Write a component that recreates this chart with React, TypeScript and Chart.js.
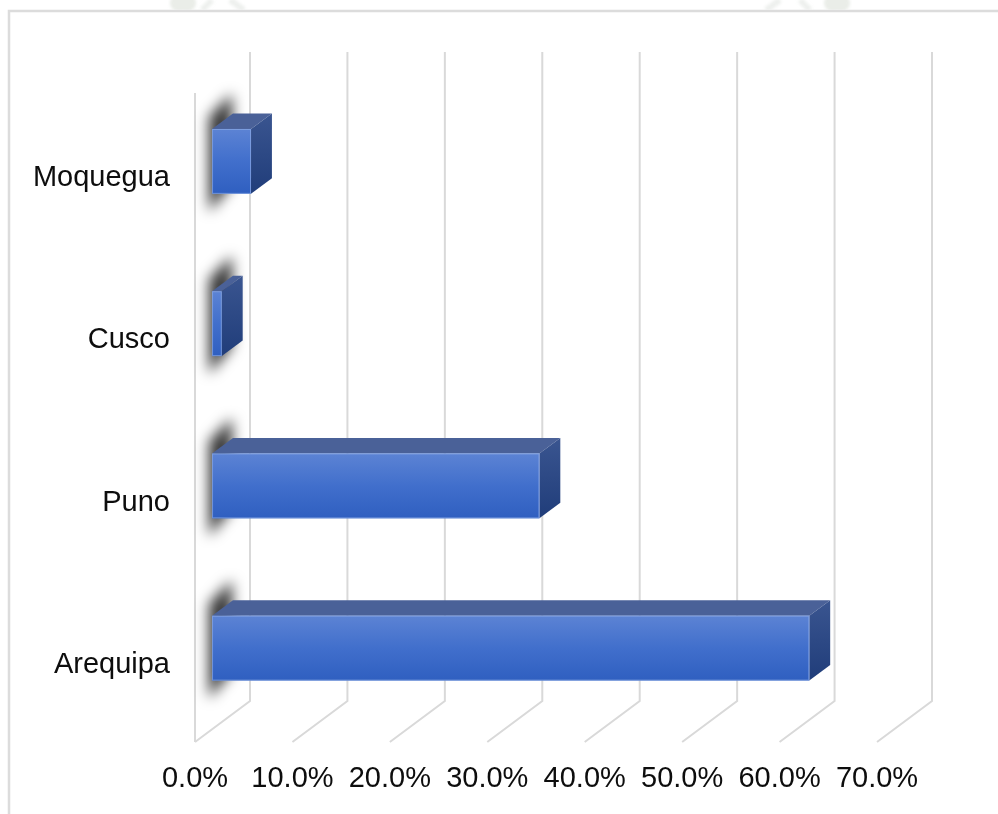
import React, { useEffect, useRef } from "react";
import { Chart, registerables } from "chart.js";

Chart.register(...registerables);

const categories = ["Moquegua", "Cusco", "Puno", "Arequipa"];
const values = [4.0, 1.0, 33.6, 61.3];
const tickValues = [0, 10, 20, 30, 40, 50, 60, 70];
const tickLabels = ["0.0%", "10.0%", "20.0%", "30.0%", "40.0%", "50.0%", "60.0%", "70.0%"];

const FONT = '29px "Liberation Sans", Arial, sans-serif';
const GRID = "#d9d9d9";
// full floor depth (back wall -> front edge)
const DX = -55;
const DY = 41;
const FRONT_F = 0.69;
const BACK_F = 0.31;

const plugin3d = {
  id: "plugin3d",
  afterDatasetsDraw(chart: any) {
    const ctx = chart.ctx as CanvasRenderingContext2D;
    const xs = chart.scales.x;
    const area = chart.chartArea;
    const meta = chart.getDatasetMeta(0);

    ctx.save();
    // outer frame
    ctx.strokeStyle = "#dcdcdc";
    ctx.lineWidth = 2.5;
    ctx.beginPath();
    ctx.moveTo(9, chart.height + 5);
    ctx.lineTo(9, 11);
    ctx.lineTo(chart.width + 5, 11);
    ctx.stroke();

    // faint watermark fragments above frame
    ctx.save();
    ctx.beginPath();
    ctx.rect(0, 0, chart.width, 9.5);
    ctx.clip();
    ctx.filter = "blur(1.5px)";
    ctx.fillStyle = "rgba(185,195,180,0.3)";
    ctx.beginPath();
    ctx.ellipse(183, 3, 13, 10, 0, 0, Math.PI * 2);
    ctx.fill();
    ctx.beginPath();
    ctx.ellipse(837, 3, 13, 10, 0, 0, Math.PI * 2);
    ctx.fill();
    ctx.strokeStyle = "rgba(200,205,200,0.3)";
    ctx.lineWidth = 6;
    ctx.beginPath();
    ctx.moveTo(202, 10);
    ctx.lineTo(212, 0);
    ctx.moveTo(230, 0);
    ctx.lineTo(244, 10);
    ctx.moveTo(766, 10);
    ctx.lineTo(780, 0);
    ctx.moveTo(800, 0);
    ctx.lineTo(810, 10);
    ctx.stroke();
    ctx.restore();

    // grid: back wall verticals and floor diagonals
    ctx.strokeStyle = GRID;
    ctx.lineWidth = 2;
    ctx.lineCap = "butt";
    tickValues.forEach((v) => {
      const x = xs.getPixelForValue(v);
      ctx.beginPath();
      ctx.moveTo(x, area.top);
      ctx.lineTo(x, area.bottom);
      ctx.lineTo(x + DX, area.bottom + DY);
      ctx.stroke();
    });
    // left wall front edge
    const x0w = xs.getPixelForValue(0);
    ctx.beginPath();
    ctx.moveTo(x0w + DX, area.top + DY);
    ctx.lineTo(x0w + DX, area.bottom + DY);
    ctx.stroke();

    const fdx = DX * FRONT_F;
    const fdy = DY * FRONT_F;
    const bdx = DX * BACK_F;
    const bdy = DY * BACK_F;
    const ox = bdx - fdx; // front -> back offset
    const oy = bdy - fdy;

    // shadows on left wall
    meta.data.forEach((bar: any) => {
      const p = bar.getProps(["y", "height"], true);
      const h = p.height;
      const x0 = xs.getPixelForValue(0) + fdx;
      const top = p.y + fdy - h / 2;
      const bot = p.y + fdy + h / 2;
      ctx.save();
      ctx.filter = "blur(7px)";
      ctx.fillStyle = "rgba(0,0,0,0.8)";
      ctx.beginPath();
      ctx.moveTo(x0 - 3, top - 12);
      ctx.lineTo(x0 + ox - 1, top + oy - 20);
      ctx.lineTo(x0 + ox - 1, bot + oy + 6);
      ctx.lineTo(x0 - 3, bot + 18);
      ctx.closePath();
      ctx.fill();
      ctx.restore();
    });

    // bars
    meta.data.forEach((bar: any, i: number) => {
      const p = bar.getProps(["y", "height"], true);
      const h = p.height;
      const x0 = xs.getPixelForValue(0) + fdx;
      const x1 = xs.getPixelForValue(values[i]) + fdx;
      const top = p.y + fdy - h / 2;
      const bot = p.y + fdy + h / 2;

      // top face
      ctx.fillStyle = "#4a6198";
      ctx.beginPath();
      ctx.moveTo(x0, top);
      ctx.lineTo(x1, top);
      ctx.lineTo(x1 + ox, top + oy);
      ctx.lineTo(x0 + ox, top + oy);
      ctx.closePath();
      ctx.fill();

      // right face
      const gr = ctx.createLinearGradient(0, top + oy, 0, bot);
      gr.addColorStop(0, "#3a5590");
      gr.addColorStop(1, "#203d7a");
      ctx.fillStyle = gr;
      ctx.beginPath();
      ctx.moveTo(x1, top);
      ctx.lineTo(x1 + ox, top + oy);
      ctx.lineTo(x1 + ox, bot + oy);
      ctx.lineTo(x1, bot);
      ctx.closePath();
      ctx.fill();

      // front face
      const gf = ctx.createLinearGradient(0, top, 0, bot);
      gf.addColorStop(0, "#5c83d4");
      gf.addColorStop(0.5, "#416fcc");
      gf.addColorStop(1, "#2f5fc0");
      ctx.fillStyle = gf;
      ctx.fillRect(x0, top, x1 - x0, h);
      ctx.strokeStyle = "rgba(140,170,230,0.7)";
      ctx.lineWidth = 1;
      ctx.strokeRect(x0 + 0.5, top + 0.5, x1 - x0 - 1, h - 1);
    });

    // category labels
    ctx.font = FONT;
    ctx.fillStyle = "#0d0d0d";
    ctx.textAlign = "right";
    ctx.textBaseline = "alphabetic";
    meta.data.forEach((bar: any, i: number) => {
      const p = bar.getProps(["y"], true);
      ctx.fillText(categories[i], 170, p.y + DY + 12);
    });

    // x tick labels at front floor edge
    ctx.textAlign = "center";
    tickValues.forEach((v, i) => {
      const x = xs.getPixelForValue(v) + DX;
      ctx.fillText(tickLabels[i], x, area.bottom + DY + 45);
    });
    ctx.restore();
  },
};

export default function App() {
  const ref = useRef<HTMLCanvasElement | null>(null);
  useEffect(() => {
    document.body.style.margin = "0";
    const canvas = ref.current!;
    const chart = new Chart(canvas, {
      type: "bar",
      data: {
        labels: categories,
        datasets: [
          {
            data: values,
            backgroundColor: "rgba(0,0,0,0)",
            borderWidth: 0,
            barPercentage: 0.4,
            categoryPercentage: 1,
          },
        ],
      },
      options: {
        indexAxis: "y",
        animation: false,
        responsive: false,
        maintainAspectRatio: false,
        layout: { padding: { left: 250, right: 66, top: 52, bottom: 113 } },
        scales: {
          x: { display: false, min: 0, max: 70 },
          y: { display: false },
        },
        plugins: {
          legend: { display: false },
          tooltip: { enabled: false },
        },
      },
      plugins: [plugin3d],
    });
    return () => chart.destroy();
  }, []);
  return (
    <div style={{ width: 998, height: 814, background: "#fff" }}>
      <canvas ref={ref} width={998} height={814} style={{ display: "block", width: 998, height: 814 }} />
    </div>
  );
}
